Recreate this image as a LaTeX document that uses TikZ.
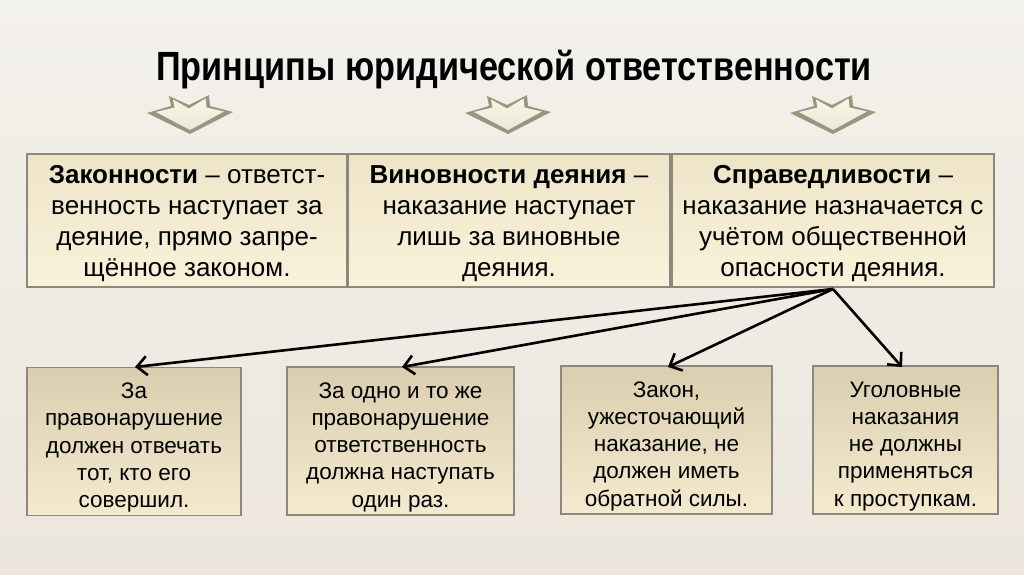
\documentclass[tikz,border=0pt]{standalone}
\usepackage{fontspec}
\setmainfont{Liberation Sans}
\newfontfamily\titlefont[FakeStretch=0.84]{Liberation Sans}
\usetikzlibrary{arrows.meta,calc}
\definecolor{bgtop}{HTML}{F3F1EC}
\definecolor{bgbot}{HTML}{ECE6DC}
\definecolor{edgecol}{HTML}{8C887C}
\definecolor{toptop}{HTML}{EEE4C8}
\definecolor{topbot}{HTML}{F9F2DA}
\definecolor{lowtop}{HTML}{D9CEAF}
\definecolor{lowbot}{HTML}{F5EACF}
\definecolor{chevdark}{HTML}{9A967E}
\definecolor{chevlight}{HTML}{F8F6E8}
\newcommand{\tsh}{\rule{0pt}{25pt}}
\newcommand{\lsh}{\rule{0pt}{28pt}}
\tikzset{
  topbox/.style={draw=edgecol, line width=1.5pt, top color=toptop, bottom color=topbot,
    minimum height=133pt, inner sep=0pt, align=center,
    font=\fontsize{26}{31}\selectfont},
  lowbox/.style={draw=edgecol, line width=1.1pt, top color=lowtop, bottom color=lowbot,
    minimum height=148pt, inner sep=0pt, align=center,
    font=\fontsize{22.5}{27.3}\selectfont},
  link/.style={line width=2.6pt, -{Straight Barb[length=10pt,width=19pt]}},
}
\begin{document}
\begin{tikzpicture}[x=1pt,y=-1pt]
\useasboundingbox (0,0) rectangle (1024,574);
\shade[top color=bgtop, bottom color=bgbot] (0,0) rectangle (1024,574);

\node (title) at (514,70) {\titlefont\bfseries\fontsize{40.8}{42}\selectfont Принципы юридической ответственности};

\foreach \cx in {190,508,833}{
  \fill[chevdark] (\cx-43,113) -- (\cx-19,106) -- (\cx-21,96) -- (\cx-1,105) -- (\cx+19,95)
     -- (\cx+20,106) -- (\cx+43,112) -- (\cx,134) -- cycle;
  \shade[top color=chevlight, bottom color=chevlight!85!chevdark]
     (\cx-34,112) -- (\cx-15.5,107.5) -- (\cx-17,99.5) -- (\cx-1,108.5) -- (\cx+15.5,98.5)
     -- (\cx+16.5,107.5) -- (\cx+34,111.5) -- (\cx,130) -- cycle;
}

\node[topbox, minimum width=320pt] (t1) at (187,220.5)
  {\tsh\textbf{Законности} – ответст-\\венность наступает за\\деяние, прямо запре-\\щённое законом.};
\node[topbox, minimum width=322pt] (t2) at (509,220.5)
  {\tsh\textbf{Виновности деяния} –\\наказание наступает\\лишь за виновные\\деяния.};
\node[topbox, minimum width=322pt] (t3) at (833,220.5)
  {\tsh\textbf{Справедливости} –\\наказание назначается с\\учётом общественной\\опасности деяния.};

\node[lowbox, minimum width=214pt] (b1) at (134,441.5)
  {\lsh За\\правонарушение\\должен отвечать\\тот, кто его\\совершил.};
\node[lowbox, minimum width=227pt] (b2) at (400.5,441)
  {\lsh За одно и то же\\правонарушение\\ответственность\\должна наступать\\один раз.};
\node[lowbox, minimum width=211pt] (b3) at (666.5,440)
  {\lsh Закон,\\ужесточающий\\наказание, не\\должен иметь\\обратной силы.};
\node[lowbox, minimum width=185pt] (b4) at (905.5,440)
  {\lsh Уголовные\\наказания\\не должны\\применяться\\к проступкам.};

\coordinate (src) at (833,289);
\coordinate (e1) at (135,367);
\coordinate (e2) at (402,367);
\coordinate (e3) at (668,367);
\coordinate (e4) at (902,367);
\draw[link] (src) -- (e1);
\draw[link] (src) -- (e2);
\draw[link] (src) -- (e3);
\draw[link] (src) -- (e4);
\end{tikzpicture}
\end{document}
